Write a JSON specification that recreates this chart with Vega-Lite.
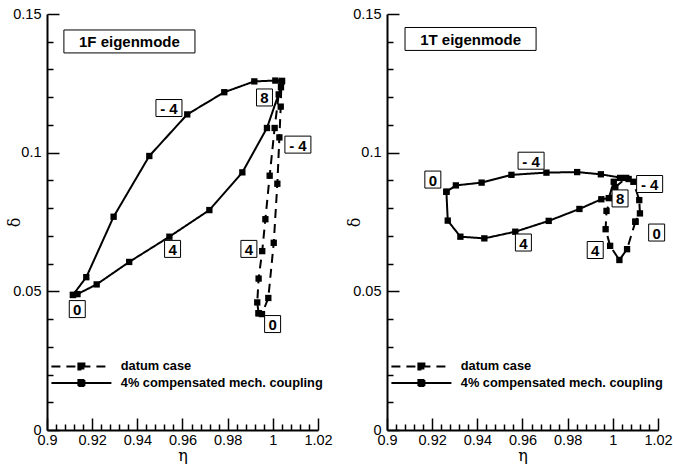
{
  "$schema": "https://vega.github.io/schema/vega-lite/v6.json",
  "background": "white",
  "padding": {"left": 6, "top": 6, "right": 3, "bottom": 0},
  "bounds": "flush",
  "spacing": 69,
  "config": {
    "view": {"stroke": null},
    "font": "Liberation Sans",
    "axis": {
      "grid": false,
      "domainColor": "black",
      "domainWidth": 2,
      "tickColor": "black",
      "tickWidth": 1.5,
      "labelColor": "black",
      "labelFont": "Liberation Sans",
      "labelFontSize": 14.5,
      "labelFlush": false,
      "labelOverlap": false,
      "labelBound": false,
      "titleFont": "DejaVu Serif",
      "titleFontSize": 16,
      "titleFontWeight": "normal",
      "titleColor": "black"
    }
  },
  "datasets": {
    "curves": [
      {"panel": "1F", "series": "4% compensated mech. coupling", "i": 0, "eta": 0.9115, "delta": 0.0487},
      {"panel": "1F", "series": "4% compensated mech. coupling", "i": 1, "eta": 0.9135, "delta": 0.0490},
      {"panel": "1F", "series": "4% compensated mech. coupling", "i": 2, "eta": 0.9220, "delta": 0.0525},
      {"panel": "1F", "series": "4% compensated mech. coupling", "i": 3, "eta": 0.9364, "delta": 0.0606},
      {"panel": "1F", "series": "4% compensated mech. coupling", "i": 4, "eta": 0.9542, "delta": 0.0697},
      {"panel": "1F", "series": "4% compensated mech. coupling", "i": 5, "eta": 0.9719, "delta": 0.0793},
      {"panel": "1F", "series": "4% compensated mech. coupling", "i": 6, "eta": 0.9865, "delta": 0.0929},
      {"panel": "1F", "series": "4% compensated mech. coupling", "i": 7, "eta": 0.9974, "delta": 0.1089},
      {"panel": "1F", "series": "4% compensated mech. coupling", "i": 8, "eta": 1.0036, "delta": 0.1236},
      {"panel": "1F", "series": "4% compensated mech. coupling", "i": 9, "eta": 1.0041, "delta": 0.1259},
      {"panel": "1F", "series": "4% compensated mech. coupling", "i": 10, "eta": 1.0011, "delta": 0.1260},
      {"panel": "1F", "series": "4% compensated mech. coupling", "i": 11, "eta": 0.9918, "delta": 0.1257},
      {"panel": "1F", "series": "4% compensated mech. coupling", "i": 12, "eta": 0.9785, "delta": 0.1218},
      {"panel": "1F", "series": "4% compensated mech. coupling", "i": 13, "eta": 0.9621, "delta": 0.1138},
      {"panel": "1F", "series": "4% compensated mech. coupling", "i": 14, "eta": 0.9453, "delta": 0.0988},
      {"panel": "1F", "series": "4% compensated mech. coupling", "i": 15, "eta": 0.9295, "delta": 0.0769},
      {"panel": "1F", "series": "4% compensated mech. coupling", "i": 16, "eta": 0.9174, "delta": 0.0551},
      {"panel": "1F", "series": "4% compensated mech. coupling", "i": 17, "eta": 0.9115, "delta": 0.0487},
      {"panel": "1F", "series": "datum case", "i": 0, "eta": 0.9937, "delta": 0.0421},
      {"panel": "1F", "series": "datum case", "i": 1, "eta": 0.9931, "delta": 0.0460},
      {"panel": "1F", "series": "datum case", "i": 2, "eta": 0.9937, "delta": 0.0546},
      {"panel": "1F", "series": "datum case", "i": 3, "eta": 0.9953, "delta": 0.0645},
      {"panel": "1F", "series": "datum case", "i": 4, "eta": 0.9967, "delta": 0.0760},
      {"panel": "1F", "series": "datum case", "i": 5, "eta": 0.9986, "delta": 0.0917},
      {"panel": "1F", "series": "datum case", "i": 6, "eta": 1.0008, "delta": 0.1089},
      {"panel": "1F", "series": "datum case", "i": 7, "eta": 1.0026, "delta": 0.1210},
      {"panel": "1F", "series": "datum case", "i": 8, "eta": 1.0038, "delta": 0.1255},
      {"panel": "1F", "series": "datum case", "i": 9, "eta": 1.0035, "delta": 0.1166},
      {"panel": "1F", "series": "datum case", "i": 10, "eta": 1.0029, "delta": 0.1055},
      {"panel": "1F", "series": "datum case", "i": 11, "eta": 1.0020, "delta": 0.0888},
      {"panel": "1F", "series": "datum case", "i": 12, "eta": 1.0004, "delta": 0.0675},
      {"panel": "1F", "series": "datum case", "i": 13, "eta": 0.9980, "delta": 0.0476},
      {"panel": "1F", "series": "datum case", "i": 14, "eta": 0.9952, "delta": 0.0418},
      {"panel": "1F", "series": "datum case", "i": 15, "eta": 0.9937, "delta": 0.0421},
      {"panel": "1T", "series": "4% compensated mech. coupling", "i": 0, "eta": 0.9263, "delta": 0.0859},
      {"panel": "1T", "series": "4% compensated mech. coupling", "i": 1, "eta": 0.9269, "delta": 0.0755},
      {"panel": "1T", "series": "4% compensated mech. coupling", "i": 2, "eta": 0.9325, "delta": 0.0697},
      {"panel": "1T", "series": "4% compensated mech. coupling", "i": 3, "eta": 0.9431, "delta": 0.0691},
      {"panel": "1T", "series": "4% compensated mech. coupling", "i": 4, "eta": 0.9568, "delta": 0.0715},
      {"panel": "1T", "series": "4% compensated mech. coupling", "i": 5, "eta": 0.9716, "delta": 0.0754},
      {"panel": "1T", "series": "4% compensated mech. coupling", "i": 6, "eta": 0.9852, "delta": 0.0797},
      {"panel": "1T", "series": "4% compensated mech. coupling", "i": 7, "eta": 0.9949, "delta": 0.0832},
      {"panel": "1T", "series": "4% compensated mech. coupling", "i": 8, "eta": 0.9982, "delta": 0.0836},
      {"panel": "1T", "series": "4% compensated mech. coupling", "i": 9, "eta": 1.0004, "delta": 0.0895},
      {"panel": "1T", "series": "4% compensated mech. coupling", "i": 10, "eta": 1.0032, "delta": 0.0909},
      {"panel": "1T", "series": "4% compensated mech. coupling", "i": 11, "eta": 1.0070, "delta": 0.0905},
      {"panel": "1T", "series": "4% compensated mech. coupling", "i": 12, "eta": 0.9947, "delta": 0.0922},
      {"panel": "1T", "series": "4% compensated mech. coupling", "i": 13, "eta": 0.9842, "delta": 0.0930},
      {"panel": "1T", "series": "4% compensated mech. coupling", "i": 14, "eta": 0.9706, "delta": 0.0928},
      {"panel": "1T", "series": "4% compensated mech. coupling", "i": 15, "eta": 0.9551, "delta": 0.0920},
      {"panel": "1T", "series": "4% compensated mech. coupling", "i": 16, "eta": 0.9419, "delta": 0.0892},
      {"panel": "1T", "series": "4% compensated mech. coupling", "i": 17, "eta": 0.9305, "delta": 0.0882},
      {"panel": "1T", "series": "4% compensated mech. coupling", "i": 18, "eta": 0.9263, "delta": 0.0859},
      {"panel": "1T", "series": "datum case", "i": 0, "eta": 1.0100, "delta": 0.0751},
      {"panel": "1T", "series": "datum case", "i": 1, "eta": 1.0063, "delta": 0.0652},
      {"panel": "1T", "series": "datum case", "i": 2, "eta": 1.0029, "delta": 0.0613},
      {"panel": "1T", "series": "datum case", "i": 3, "eta": 0.9988, "delta": 0.0664},
      {"panel": "1T", "series": "datum case", "i": 4, "eta": 0.9968, "delta": 0.0724},
      {"panel": "1T", "series": "datum case", "i": 5, "eta": 0.9972, "delta": 0.0790},
      {"panel": "1T", "series": "datum case", "i": 6, "eta": 1.0011, "delta": 0.0876},
      {"panel": "1T", "series": "datum case", "i": 7, "eta": 1.0059, "delta": 0.0909},
      {"panel": "1T", "series": "datum case", "i": 8, "eta": 1.0091, "delta": 0.0895},
      {"panel": "1T", "series": "datum case", "i": 9, "eta": 1.0117, "delta": 0.0829},
      {"panel": "1T", "series": "datum case", "i": 10, "eta": 1.0120, "delta": 0.0781},
      {"panel": "1T", "series": "datum case", "i": 11, "eta": 1.0100, "delta": 0.0751}
    ],
    "labels": [
      {"panel": "1F", "label": "1F eigenmode", "eta": 0.9365, "delta": 0.1401},
      {"panel": "1F", "label": "- 4", "eta": 0.9540, "delta": 0.1161},
      {"panel": "1F", "label": "8", "eta": 0.9963, "delta": 0.1199},
      {"panel": "1F", "label": "- 4", "eta": 1.0111, "delta": 0.1029},
      {"panel": "1F", "label": "4", "eta": 0.9556, "delta": 0.0653},
      {"panel": "1F", "label": "4", "eta": 0.9894, "delta": 0.0653},
      {"panel": "1F", "label": "0", "eta": 0.9134, "delta": 0.0436},
      {"panel": "1F", "label": "0", "eta": 0.9999, "delta": 0.0382},
      {"panel": "1T", "label": "1T eigenmode", "eta": 0.9370, "delta": 0.1410},
      {"panel": "1T", "label": "0", "eta": 0.9203, "delta": 0.0903},
      {"panel": "1T", "label": "- 4", "eta": 0.9638, "delta": 0.0971},
      {"panel": "1T", "label": "4", "eta": 0.9604, "delta": 0.0676},
      {"panel": "1T", "label": "8", "eta": 1.0032, "delta": 0.0835},
      {"panel": "1T", "label": "- 4", "eta": 1.0163, "delta": 0.0887},
      {"panel": "1T", "label": "0", "eta": 1.0194, "delta": 0.0712},
      {"panel": "1T", "label": "4", "eta": 0.9922, "delta": 0.0649}
    ]
  },
  "hconcat": [
    {
      "width": 271,
      "height": 416,
      "encoding": {
        "x": {"field": "eta", "type": "quantitative",
          "scale": {"domain": [0.9, 1.02], "nice": false, "zero": false},
          "axis": {"title": "η", "titlePadding": -5, "labelPadding": 15,
            "tickSize": {"condition": {"test": "abs(datum.value*50 - round(datum.value*50)) < 0.001", "value": -12}, "value": -6},
            "values": [0.9,0.904,0.908,0.912,0.916,0.92,0.924,0.928,0.932,0.936,0.94,0.944,0.948,0.952,0.956,0.96,0.964,0.968,0.972,0.976,0.98,0.984,0.988,0.992,0.996,1,1.004,1.008,1.012,1.016,1.02],
            "labelExpr": "abs(datum.value*50 - round(datum.value*50)) < 0.001 ? toString(round(datum.value*100)/100) : ''"}},
        "y": {"field": "delta", "type": "quantitative",
          "scale": {"domain": [0, 0.15], "nice": false, "zero": false},
          "axis": {"title": "δ", "titlePadding": -10, "labelPadding": 18,
            "tickSize": {"condition": {"test": "abs(datum.value*20 - round(datum.value*20)) < 0.001", "value": -12}, "value": -6},
            "values": [0,0.01,0.02,0.03,0.04,0.05,0.06,0.07,0.08,0.09,0.1,0.11,0.12,0.13,0.14,0.15],
            "labelExpr": "abs(datum.value*20 - round(datum.value*20)) < 0.001 ? toString(round(datum.value*100)/100) : ''"}}
      },
      "layer": [
        {
          "data": {"name": "curves"},
          "transform": [{"filter": "datum.panel == '1F'"}],
          "mark": {"type": "line", "color": "black", "strokeWidth": 2,
            "point": {"filled": true, "shape": "square", "size": 40, "color": "black", "opacity": 1}},
          "encoding": {
            "order": {"field": "i", "type": "quantitative"},
            "strokeDash": {"field": "series", "type": "nominal",
              "scale": {"domain": ["datum case", "4% compensated mech. coupling"], "range": [[9, 6], [1, 0]]},
              "legend": {"title": null, "orient": "none", "legendX": 28, "legendY": 346, "padding": 0,
                "symbolType": "M-10,0H10M-1,-1H1V1H-1Z", "symbolSize": 36, "symbolStrokeWidth": 2,
                "symbolFillColor": "black", "symbolStrokeColor": "black",
                "labelFont": "Liberation Sans", "labelFontSize": 12.8, "labelFontWeight": "bold", "labelColor": "black",
                "labelOffset": 33, "labelLimit": 400, "rowPadding": 1.5,
                "encode": {"symbols": {"update": {"fill": {"value": "black"}, "stroke": {"value": "black"}}}}}}
          }
        },
        {
          "data": {"name": "labels"},
          "transform": [{"filter": "datum.panel == '1F'"}],
          "mark": {"type": "point", "filled": true, "fill": "white", "stroke": "black", "strokeWidth": 1, "size": 289, "opacity": 1},
          "encoding": {
            "shape": {"field": "label", "type": "nominal", "legend": null,
              "scale": {"domain": ["0", "4", "8", "- 4", "1F eigenmode", "1T eigenmode"],
                "range": ["M-0.94,-1H0.94V1H-0.94Z", "M-0.94,-1H0.94V1H-0.94Z", "M-0.94,-1H0.94V1H-0.94Z", "M-1.53,-1H1.53V1H-1.53Z", "M-7.71,-1.35H7.71V1.35H-7.71Z", "M-7.71,-1.35H7.71V1.35H-7.71Z"]}}
          }
        },
        {
          "data": {"name": "labels"},
          "transform": [{"filter": "datum.panel == '1F'"}],
          "mark": {"type": "text", "font": "Liberation Sans", "fontWeight": "bold", "fontSize": 15, "color": "black", "align": "center", "baseline": "middle", "dy": 1},
          "encoding": {"text": {"field": "label", "type": "nominal"}}
        }
      ]
    },
    {
      "width": 271,
      "height": 416,
      "encoding": {
        "x": {"field": "eta", "type": "quantitative",
          "scale": {"domain": [0.9, 1.02], "nice": false, "zero": false},
          "axis": {"title": "η", "titlePadding": -5, "labelPadding": 15,
            "tickSize": {"condition": {"test": "abs(datum.value*50 - round(datum.value*50)) < 0.001", "value": -12}, "value": -6},
            "values": [0.9,0.904,0.908,0.912,0.916,0.92,0.924,0.928,0.932,0.936,0.94,0.944,0.948,0.952,0.956,0.96,0.964,0.968,0.972,0.976,0.98,0.984,0.988,0.992,0.996,1,1.004,1.008,1.012,1.016,1.02],
            "labelExpr": "abs(datum.value*50 - round(datum.value*50)) < 0.001 ? toString(round(datum.value*100)/100) : ''"}},
        "y": {"field": "delta", "type": "quantitative",
          "scale": {"domain": [0, 0.15], "nice": false, "zero": false},
          "axis": {"title": "δ", "titlePadding": -10, "labelPadding": 18,
            "tickSize": {"condition": {"test": "abs(datum.value*20 - round(datum.value*20)) < 0.001", "value": -12}, "value": -6},
            "values": [0,0.01,0.02,0.03,0.04,0.05,0.06,0.07,0.08,0.09,0.1,0.11,0.12,0.13,0.14,0.15],
            "labelExpr": "abs(datum.value*20 - round(datum.value*20)) < 0.001 ? toString(round(datum.value*100)/100) : ''"}}
      },
      "layer": [
        {
          "data": {"name": "curves"},
          "transform": [{"filter": "datum.panel == '1T'"}],
          "mark": {"type": "line", "color": "black", "strokeWidth": 2,
            "point": {"filled": true, "shape": "square", "size": 40, "color": "black", "opacity": 1}},
          "encoding": {
            "order": {"field": "i", "type": "quantitative"},
            "strokeDash": {"field": "series", "type": "nominal",
              "scale": {"domain": ["datum case", "4% compensated mech. coupling"], "range": [[9, 6], [1, 0]]},
              "legend": {"title": null, "orient": "none", "legendX": 28, "legendY": 346, "padding": 0,
                "symbolType": "M-10,0H10M-1,-1H1V1H-1Z", "symbolSize": 36, "symbolStrokeWidth": 2,
                "symbolFillColor": "black", "symbolStrokeColor": "black",
                "labelFont": "Liberation Sans", "labelFontSize": 12.8, "labelFontWeight": "bold", "labelColor": "black",
                "labelOffset": 33, "labelLimit": 400, "rowPadding": 1.5,
                "encode": {"symbols": {"update": {"fill": {"value": "black"}, "stroke": {"value": "black"}}}}}}
          }
        },
        {
          "data": {"name": "labels"},
          "transform": [{"filter": "datum.panel == '1T'"}],
          "mark": {"type": "point", "filled": true, "fill": "white", "stroke": "black", "strokeWidth": 1, "size": 289, "opacity": 1},
          "encoding": {
            "shape": {"field": "label", "type": "nominal", "legend": null,
              "scale": {"domain": ["0", "4", "8", "- 4", "1F eigenmode", "1T eigenmode"],
                "range": ["M-0.94,-1H0.94V1H-0.94Z", "M-0.94,-1H0.94V1H-0.94Z", "M-0.94,-1H0.94V1H-0.94Z", "M-1.53,-1H1.53V1H-1.53Z", "M-7.71,-1.35H7.71V1.35H-7.71Z", "M-7.71,-1.35H7.71V1.35H-7.71Z"]}}
          }
        },
        {
          "data": {"name": "labels"},
          "transform": [{"filter": "datum.panel == '1T'"}],
          "mark": {"type": "text", "font": "Liberation Sans", "fontWeight": "bold", "fontSize": 15, "color": "black", "align": "center", "baseline": "middle", "dy": 1},
          "encoding": {"text": {"field": "label", "type": "nominal"}}
        }
      ]
    }
  ],
  "resolve": {
    "scale": {"strokeDash": "independent", "shape": "independent"},
    "legend": {"strokeDash": "independent"}
  }
}
